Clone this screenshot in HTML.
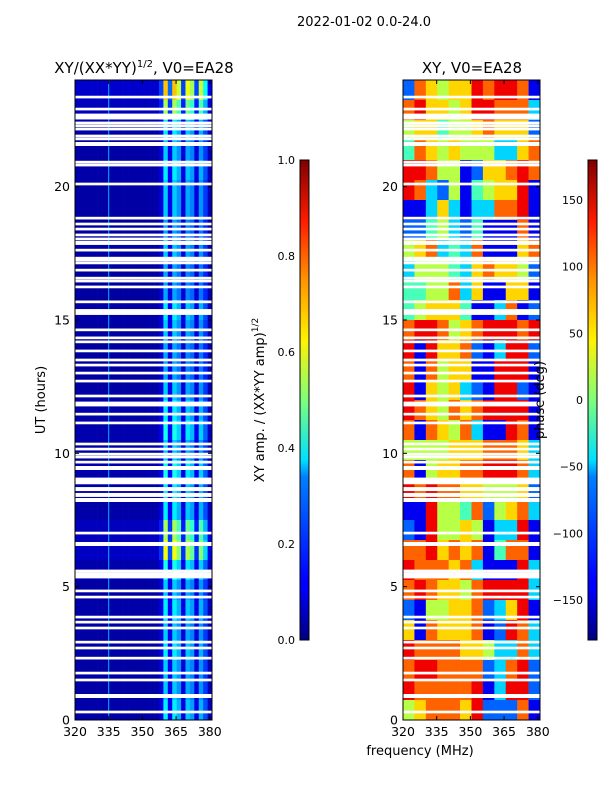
<!DOCTYPE html>
<html><head><meta charset="utf-8">
<style>
html,body{margin:0;padding:0;background:#fff;}
svg{display:block;font-family:"DejaVu Sans","Liberation Sans",sans-serif;}
</style></head>
<body>
<svg id="fig" width="600" height="800" viewBox="0 0 600 800" xmlns="http://www.w3.org/2000/svg">
<defs>
<linearGradient id="jet" x1="0" y1="1" x2="0" y2="0">
<stop offset="0" stop-color="#00007f"/><stop offset="0.11" stop-color="#0000ff"/>
<stop offset="0.125" stop-color="#0000ff"/><stop offset="0.34" stop-color="#0080ff"/>
<stop offset="0.375" stop-color="#00dfff"/><stop offset="0.5" stop-color="#7dff7a"/>
<stop offset="0.625" stop-color="#fff200"/><stop offset="0.75" stop-color="#ff9400"/>
<stop offset="0.875" stop-color="#ff1a00"/><stop offset="1" stop-color="#7f0000"/>
</linearGradient>
</defs>
<text x="364" y="26" font-size="13" text-anchor="middle">2022-01-02 0.0-24.0</text>
<text x="144" y="73" font-size="15" text-anchor="middle">XY/(XX*YY)<tspan font-size="10" dy="-6">1/2</tspan><tspan dy="6">, V0=EA28</tspan></text>
<text x="472" y="73" font-size="15" text-anchor="middle">XY, V0=EA28</text>
<g id="ampPanel"></g>
<g id="phasePanel"></g>
<g id="axes"></g>
<text transform="translate(45,400) rotate(-90)" font-size="13" text-anchor="middle">UT (hours)</text>
<text x="420" y="755" font-size="13" text-anchor="middle">frequency (MHz)</text>
<text transform="translate(264,400) rotate(-90)" font-size="13" text-anchor="middle">XY amp. / (XX*YY amp)<tspan font-size="9" dy="-6">1/2</tspan></text>
<text transform="translate(544,400) rotate(-90)" font-size="13" text-anchor="middle">phase (deg)</text>
<rect x="300" y="160" width="9" height="480" fill="url(#jet)" stroke="#000" stroke-width="1"/>
<rect x="588" y="160" width="9" height="480" fill="url(#jet)" stroke="#000" stroke-width="1"/>
</svg>
<script>
// ---- data ----
const freqMin = 320, freqMax = 381, hourMin = 0, hourMax = 24;
const xTicks = [320, 335, 350, 365, 380];
const yTicks = [0, 5, 10, 15, 20];
const ampTicks = [0.0, 0.2, 0.4, 0.6, 0.8, 1.0];
const phaseTicks = [-150, -100, -50, 0, 50, 100, 150];
// channel amplitude profile (2 MHz channels starting at 320 MHz)
const channelAmp = [0.04,0.04,0.04,0.04,0.04,0.04,0.04,0.04,0.04,0.04,0.04,0.04,0.04,0.04,0.04,0.04,0.04,0.04,0.04,0.1,0.36,0.12,0.36,0.3,0.1,0.32,0.28,0.1,0.3,0.2,0.06];
// time-row gain (32 rows of 0.75 h, from 24h down to 0h)
const rowGain = [1.9,1.5,1.0,0.9,1.0,0.9,0.9,0.8,0.9,0.8,0.8,1.0,0.9,0.8,0.8,0.9,1.0,1.1,0.9,1.1,1.0,1.0,1.5,1.7,1.1,0.9,1.0,0.9,1.0,0.9,0.9,1.0];
const rfiFreqs = [335];
// phase grid, level digits 0..9 (-180..180 deg), 12 freq columns x 32 rows top->bottom
const phaseRows = [
"276566878871","786656887773","566455676662","476565553367",
"887551266787","873251456681","113631337781","224532411171",
"567343711167","355543676652","445573611661","456664113712",
"788756788878","818667213882","717566118881","816563218821",
"876576788881","717657311871","555566677763","715667788873",
"878776655562","118554725673","218556513381","778676714771",
"877767311183","787665788883","215566723681","617666712873",
"877776653373","788777723782","877777813882","567776822271"];
// flagged (blank) hours and widths
const flagHours = [23.36,22.91,22.63,22.39,22.28,22.16,21.9,21.79,21.6,20.92,20.81,20.1,18.82,18.6,18.41,18.19,18.04,17.89,17.62,17.32,17.25,17.14,16.87,16.57,16.46,16.24,15.68,15.3,14.63,14.33,14.18,13.84,13.5,13.31,13.01,12.71,12.15,11.89,11.81,11.47,11.14,10.35,10.16,9.97,9.86,9.67,9.45,9.04,8.96,8.89,8.66,8.44,8.25,7.01,6.6,5.59,5.47,5.36,4.84,4.61,3.86,3.67,3.45,2.92,2.7,2.32,1.76,1.5,0.9,0.3];
const flagWidths = [0.1,0.1,0.22,0.1,0.1,0.1,0.1,0.1,0.15,0.1,0.1,0.1,0.1,0.1,0.1,0.1,0.1,0.15,0.1,0.1,0.1,0.1,0.1,0.1,0.1,0.1,0.1,0.22,0.1,0.1,0.1,0.1,0.1,0.1,0.1,0.1,0.1,0.1,0.1,0.1,0.1,0.1,0.1,0.1,0.1,0.1,0.15,0.1,0.1,0.1,0.15,0.15,0.15,0.1,0.15,0.1,0.15,0.1,0.1,0.1,0.1,0.1,0.1,0.1,0.1,0.1,0.1,0.1,0.15,0.1];

// ---- layout ----
const NS = "http://www.w3.org/2000/svg";
const svg = document.getElementById('fig');
const panels = [{x0:75,x1:212,g:'ampPanel',name:'amp'},{x0:403,x1:540,g:'phasePanel',name:'phase'}];
const yTop = 80, yBot = 720;
function yScale(h){return yBot - (h-hourMin)/(hourMax-hourMin)*(yBot-yTop);}
function xScale(p,f){return p.x0 + (f-freqMin)/(freqMax-freqMin)*(p.x1-p.x0);}
function jet(v){
  v=Math.max(0,Math.min(1,v));
  const r=Math.max(0,Math.min(1,1.5-Math.abs(4*v-3)));
  const g=Math.max(0,Math.min(1,1.5-Math.abs(4*v-2)));
  const b=Math.max(0,Math.min(1,1.5-Math.abs(4*v-1)));
  return `rgb(${Math.round(r*255)},${Math.round(g*255)},${Math.round(b*255)})`;
}
function mk(tag,attrs,parent){const e=document.createElementNS(NS,tag);for(const k in attrs)e.setAttribute(k,attrs[k]);parent.appendChild(e);return e;}

const nRows = rowGain.length, rowH = (hourMax-hourMin)/nRows;
// amplitude heatmap
{
  const p=panels[0], g=document.getElementById(p.g);
  const chW=(freqMax-freqMin)/channelAmp.length;
  for(let r=0;r<nRows;r++){
    const hTop=hourMax-r*rowH, hBot=hTop-rowH;
    for(let c=0;c<channelAmp.length;c++){
      const f0=freqMin+c*chW, f1=f0+chW;
      const x=xScale(p,f0), w=xScale(p,f1)-x+0.3;
      const el=mk('rect',{x:x,y:yScale(hTop),width:w,height:yScale(hBot)-yScale(hTop)+0.3,fill:jet(channelAmp[c]*rowGain[r])},g);
      
      
    }
  }
  rfiFreqs.forEach(f=>{
    const el=mk('rect',{x:xScale(p,f)-0.5,y:yTop,width:1,height:yBot-yTop,fill:jet(0.3)},g);
    
    
  });
}
// phase heatmap
{
  const p=panels[1], g=document.getElementById(p.g);
  const nC=phaseRows[0].length, cw=(freqMax-freqMin)/nC;
  for(let r=0;r<phaseRows.length;r++){
    const hTop=hourMax-r*(hourMax-hourMin)/phaseRows.length, hBot=hTop-(hourMax-hourMin)/phaseRows.length;
    for(let c=0;c<nC;c++){
      const deg=(Number(phaseRows[r][c])-4.5)*40;
      const x=xScale(p,freqMin+c*cw), w=xScale(p,freqMin+(c+1)*cw)-x+0.3;
      const el=mk('rect',{x:x,y:yScale(hTop),width:w,height:yScale(hBot)-yScale(hTop)+0.3,fill:jet((deg+180)/360)},g);
      
      
    }
  }
}
// flags + axes
const ax=document.getElementById('axes');
panels.forEach(p=>{
  const g=document.getElementById(p.g);
  flagHours.forEach((h,i)=>{
    const y0=yScale(h+flagWidths[i]/2), y1=yScale(h-flagWidths[i]/2);
    const el=mk('rect',{x:p.x0,y:y0,width:p.x1-p.x0,height:Math.max(1.5,y1-y0),fill:'#fff'},g);
    
    
  });
  const fr=mk('rect',{x:p.x0,y:yTop,width:p.x1-p.x0,height:yBot-yTop,fill:'none',stroke:'#000','stroke-width':1},ax);
  
  
  xTicks.forEach(f=>{
    const x=xScale(p,f);
    mk('line',{x1:x,x2:x,y1:yBot,y2:yBot-4,stroke:'#000'},ax);
    mk('line',{x1:x,x2:x,y1:yTop,y2:yTop+4,stroke:'#000'},ax);
    const t=mk('text',{x:x,y:yBot+16,'font-size':12.5,'text-anchor':'middle'},ax);
    t.textContent=f;
    
    
  });
  yTicks.forEach(h=>{
    const y=yScale(h);
    mk('line',{x1:p.x0,x2:p.x0+4,y1:y,y2:y,stroke:'#000'},ax);
    mk('line',{x1:p.x1,x2:p.x1-4,y1:y,y2:y,stroke:'#000'},ax);
    const t=mk('text',{x:p.x0-5,y:y+4.5,'font-size':12.5,'text-anchor':'end'},ax);
    t.textContent=h;
    
    
  });
});
// colorbar ticks
function cbTicks(x,ticks,vmin,vmax,fmt,name){
  ticks.forEach(v=>{
    const y=640-(v-vmin)/(vmax-vmin)*480;
    mk('line',{x1:x,x2:x+9,y1:y,y2:y,stroke:'#000','stroke-width':0.8},ax);
    const t=mk('text',{x:x-5,y:y+4,'font-size':11,'text-anchor':'end'},ax);
    t.textContent=fmt(v);
    
    
  });
}
cbTicks(300,ampTicks,0,1,v=>v.toFixed(1),'amp-colorbar-tick');
cbTicks(588,phaseTicks,-180,180,v=>(v<0?'\u2212'+(-v):String(v)),'phase-colorbar-tick');
</script>
</body></html>
